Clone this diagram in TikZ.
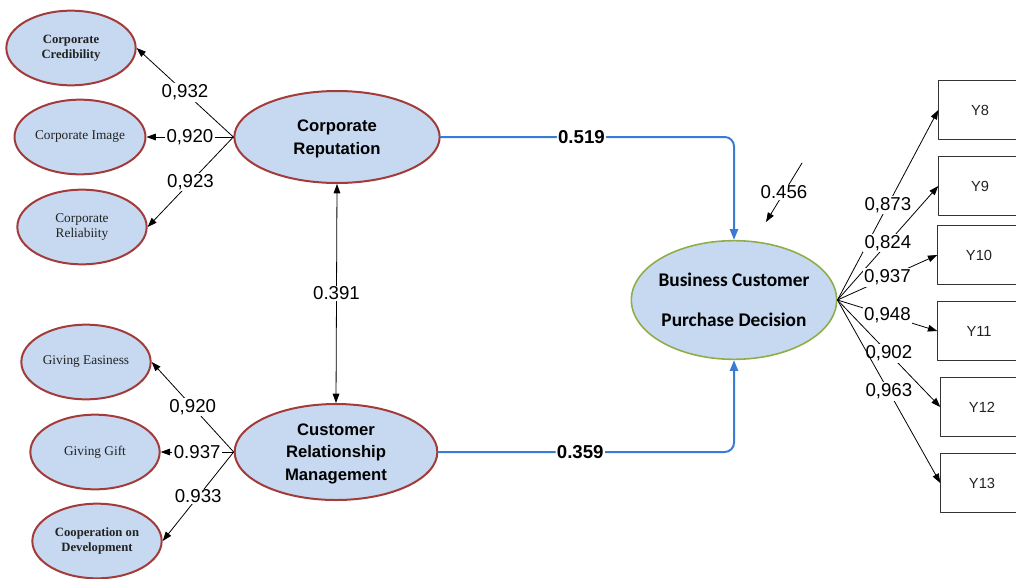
\documentclass[tikz,border=0pt]{standalone}
\usepackage{fontspec}
\setmainfont{Liberation Serif}
\setsansfont{Liberation Sans}
\newfontfamily\calibrifont{Carlito}
\usepackage{tikz}
\usetikzlibrary{arrows.meta,shapes.geometric}
\definecolor{latentfill}{HTML}{C6D9F0}
\definecolor{brick}{HTML}{A33B3B}
\definecolor{olive}{HTML}{8FAE4A}
\definecolor{pathblue}{HTML}{3A7BD5}
\definecolor{ink}{HTML}{222222}
\tikzset{
    every picture/.style={line cap=round,line join=round},
    indicator/.style={ellipse,draw=brick,fill=latentfill,line width=1.5pt,
      minimum width=97pt,minimum height=56pt,inner sep=1pt,text=ink,
      font=\fontsize{10}{11.5}\selectfont,align=center},
    construct/.style={ellipse,draw=brick,fill=latentfill,line width=1.5pt,
      minimum width=154pt,minimum height=69pt,inner sep=1pt,text depth=0pt,
      font=\sffamily\bfseries\fontsize{12.5}{17}\selectfont,align=center},
    outcome/.style={construct,draw=olive,line width=1.2pt,inner xsep=-5pt,
      minimum width=154pt,minimum height=89pt,
      font=\calibrifont\bfseries\fontsize{14.5}{30}\selectfont},
    itembox/.style={rectangle,draw=black!80,line width=0.6pt,
      minimum width=62pt,minimum height=44pt,text=ink,
      font=\sffamily\fontsize{11}{13}\selectfont},
    loadarrow/.style={-{Triangle[length=7pt,width=5pt]},line width=0.6pt},
    twoway/.style={{Triangle[length=7pt,width=5pt]}-{Triangle[length=7pt,width=5pt]},
      line width=0.6pt},
    pathline/.style={-{Triangle[length=8pt,width=6pt]},draw=pathblue,
      line width=1.5pt,rounded corners=7pt},
    coef/.style={fill=white,inner sep=1pt,font=\sffamily\fontsize{14}{16}\selectfont},
    pathcoef/.style={coef,font=\sffamily\bfseries\fontsize{14}{16}\selectfont}
}

\begin{document}
\begin{tikzpicture}[x=0.75pt,y=-0.75pt]
  \clip (0,0) rectangle (1016,578);
  % latent constructs
  \node[construct] (rep) at (337,137) {Corporate\\Reputation};
  \node[construct,minimum width=152pt,minimum height=72pt] (crm) at (336,452)
    {Customer\\Relationship\\Management};
  \node[outcome] (bcpd) at (734,300) {Business Customer\\Purchase Decision};

  % indicators of reputation
  \node[indicator,font=\bfseries\fontsize{9.5}{11.5}\selectfont] (cred) at (71,48)
    {Corporate\\Credibility};
  \node[indicator] (image) at (80,137) {Corporate Image};
  \node[indicator] (relia) at (82,227) {Corporate\\Reliabiity};

  % indicators of crm
  \node[indicator] (ease) at (86,362) {Giving Easiness};
  \node[indicator] (gift) at (95,452) {Giving Gift};
  \node[indicator,font=\bfseries\fontsize{9.5}{11.5}\selectfont] (coop) at (97,541)
    {Cooperation on\\Development};

  % items of purchase decision
  \node[itembox] (y8) at (980,110) {Y8};
  \node[itembox] (y9) at (980,186) {Y9};
  \node[itembox] (y10) at (979,255) {Y10};
  \node[itembox] (y11) at (979,331) {Y11};
  \node[itembox] (y12) at (982,407) {Y12};
  \node[itembox] (y13) at (982,483) {Y13};

  % loadings
  \draw[loadarrow] (rep.west) -- node[coef] {0,932} (cred.east);
  \draw[loadarrow] (rep.west) -- node[coef] {0,920} (image.east);
  \draw[loadarrow] (rep.west) -- node[coef] {0,923} (relia.east);
  \draw[loadarrow] (crm.west) -- node[coef] {0,920} (ease.east);
  \draw[loadarrow] (crm.west) -- node[coef] {0.937} (gift.east);
  \draw[loadarrow] (crm.west) -- node[coef] {0.933} (coop.east);

  \draw[loadarrow] (bcpd.east) -- node[coef] {0,873} (y8.west);
  \draw[loadarrow] (bcpd.east) -- node[coef] {0,824} (y9.west);
  \draw[loadarrow] (bcpd.east) -- node[coef] {0,937} (y10.west);
  \draw[loadarrow] (bcpd.east) -- node[coef] {0,948} (y11.west);
  \draw[loadarrow] (bcpd.east) -- node[coef] {0,902} (y12.west);
  \draw[loadarrow] (bcpd.east) -- node[coef] {0,963} (y13.west);

  % correlation and paths
  \draw[twoway] (rep.south) -- node[coef] {0.391} (crm.north);
  \draw[pathline] (rep.east) -- node[pathcoef,pos=0.48] {0.519} (bcpd.north |- rep.east)
    -- (bcpd.north);
  \draw[pathline] (crm.east) -- node[pathcoef,pos=0.48] {0.359} (bcpd.south |- crm.east)
    -- (bcpd.south);

  % error term
  \coordinate (errtop) at (802,163);
  \coordinate (errtip) at (766,222);
  \draw[loadarrow] (errtop) -- node[coef] {0.456} (errtip);
\end{tikzpicture}
\end{document}
